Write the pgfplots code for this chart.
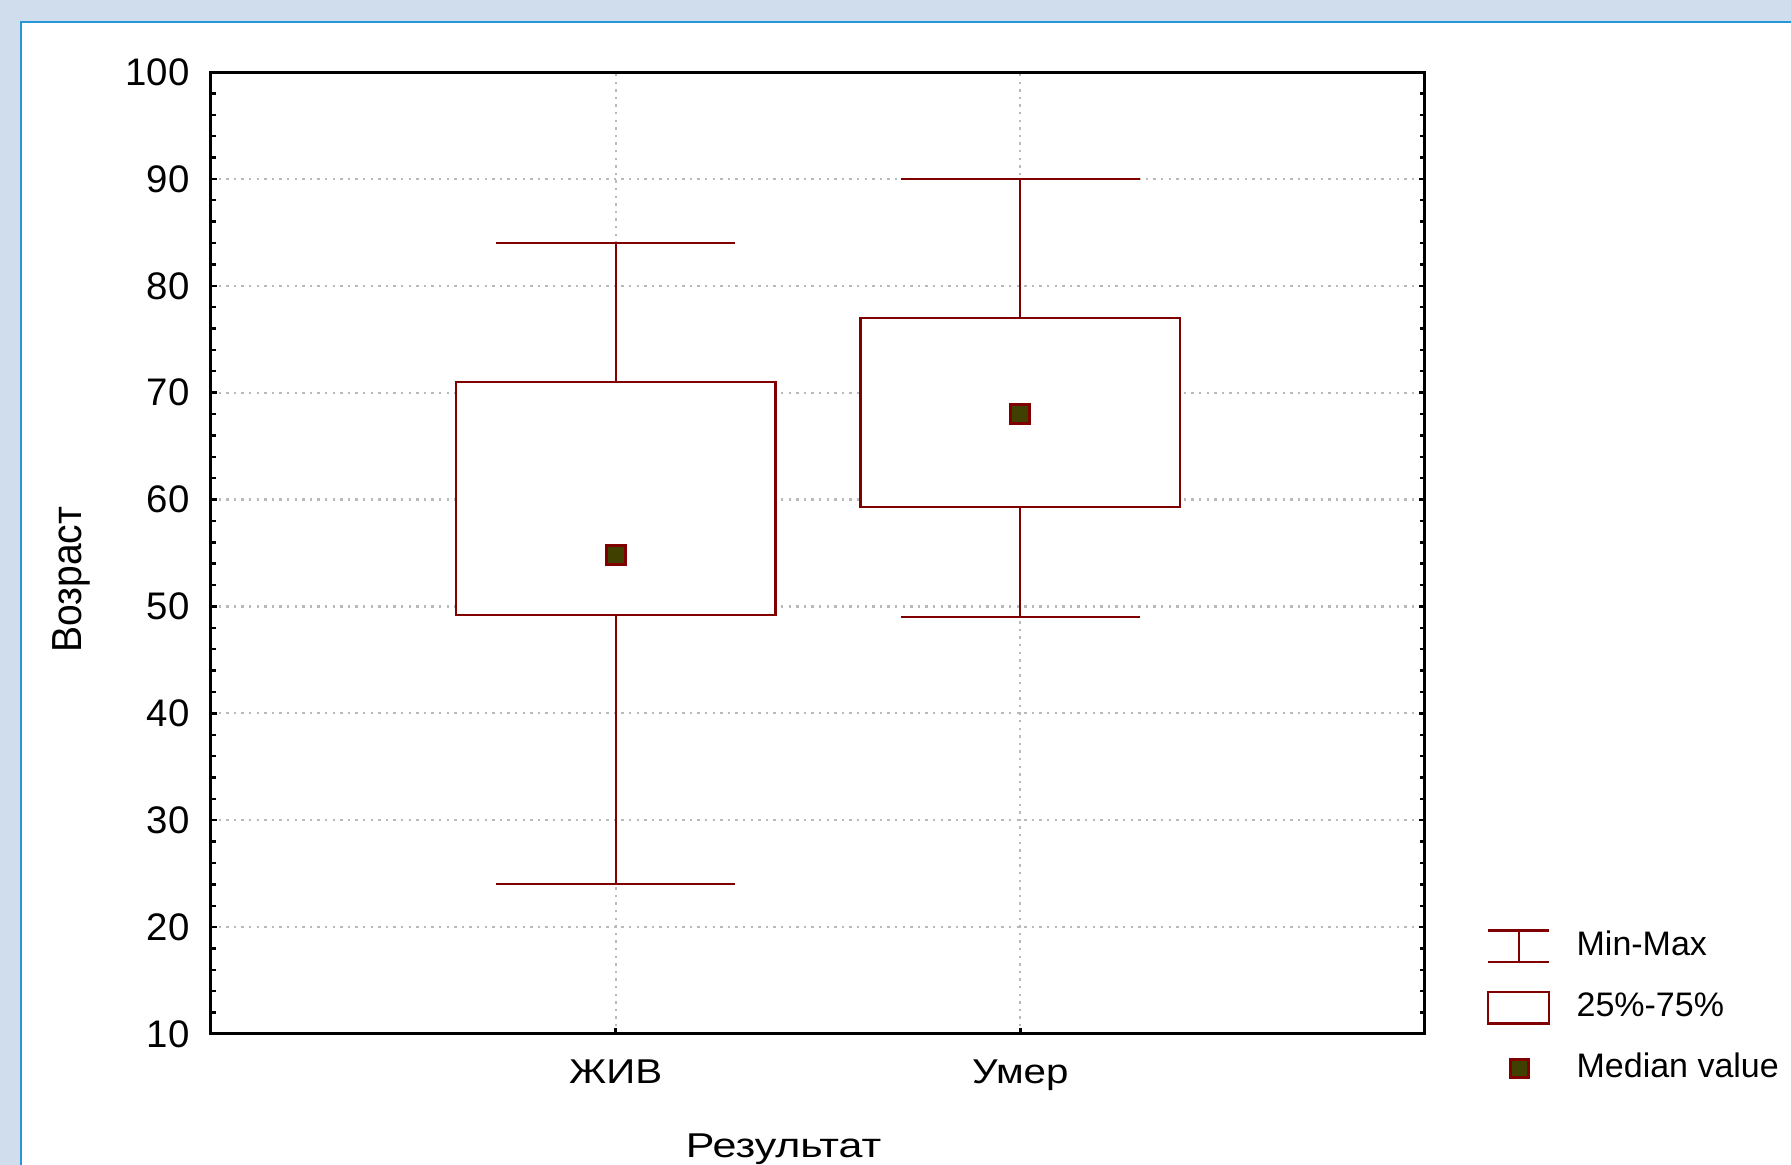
\documentclass[border=0pt]{standalone}
\usepackage{fontspec}
\setmainfont{Liberation Sans}
\usepackage{pgfplots}
\pgfplotsset{compat=1.18}
\definecolor{maroonc}{RGB}{128,0,0}
\definecolor{medfill}{RGB}{64,64,0}
\definecolor{bgblue}{RGB}{207,221,236}
\definecolor{panelblue}{RGB}{40,150,215}
\definecolor{gridgray}{RGB}{185,185,185}

\begin{document}
\begin{tikzpicture}
\useasboundingbox (0,0) rectangle (447.75pt,291.25pt);
\clip (0,0) rectangle (447.75pt,291.25pt);
\fill[bgblue] (0,0) rectangle (447.75pt,291.25pt);
\filldraw[fill=white, draw=panelblue, line width=0.5pt] (5.25pt,-5pt) rectangle (460pt,285.75pt);
\begin{axis}[
  at={(52.75pt,32.75pt)}, anchor=south west,
  scale only axis, width=303.5pt, height=240.5pt,
  xmin=0, xmax=3, ymin=10, ymax=100,
  xtick={1,2}, xticklabels={ЖИВ,Умер},
  ytick={10,20,...,100},
  minor y tick num=4,
  tick align=inside,
  xtick pos=left, ytick pos=both,
  major tick length=1.6pt, minor tick length=1.2pt,
  axis line style={black, line width=0.75pt},
  every tick/.style={black, line width=0.6pt},
  grid=major,
  major grid style={gridgray, line width=0.55pt, dash pattern=on 0.6pt off 1.3pt},
  /pgf/number format/assume math mode=true,
  yticklabel style={font=\fontsize{9.6}{11}\selectfont, xshift=-1.8pt},
  xticklabel style={font=\fontsize{8.6}{10}\selectfont, xscale=1.17, yshift=-3pt},
  ylabel={Возраст},
  ylabel style={font=\fontsize{10.5}{12}\selectfont, at={(axis description cs:-0.1065,0.4722)}, anchor=base, xscale=0.93},
  xlabel={Результат},
  xlabel style={font=\fontsize{8.6}{10}\selectfont, at={(axis description cs:0.4717,-0.1282)}, anchor=base, xscale=1.25},
  legend style={at={(axis description cs:1.0511,0.1087)}, anchor=north west,
    draw=none, fill=none, inner sep=0pt, outer sep=0pt,
    row sep=7.1pt, column sep=6.6pt,
    font=\fontsize{8.5}{10}\selectfont,
    cells={anchor=west}, nodes={inner sep=0pt}},
]
\addlegendimage{legend image code/.code={\draw[maroonc, line width=0.55pt] (0pt,-3.9pt) -- (15.25pt,-3.9pt) (0pt,3.9pt) -- (15.25pt,3.9pt) (7.625pt,-3.9pt) -- (7.625pt,3.9pt);}}
\addlegendentry{Min-Max}
\addlegendimage{legend image code/.code={\draw[maroonc, line width=0.55pt] (0pt,-3.9pt) rectangle (15.25pt,3.9pt);}}
\addlegendentry{25\%-75\%}
\addlegendimage{legend image code/.code={\path[draw=none, fill=none] (0pt,-3.9pt) rectangle (15.25pt,3.9pt); \draw[maroonc, fill=medfill, line width=0.7pt] (5.6pt,-2.25pt) rectangle (10.1pt,2.25pt);}}
\addlegendentry{Median value}

% ЖИВ: min 24, q1 49.2, median 54.8, q3 71, max 84
\addplot[maroonc, line width=0.55pt, forget plot] coordinates {(1,71) (1,84)};
\addplot[maroonc, line width=0.55pt, forget plot] coordinates {(1,24) (1,49.2)};
\addplot[maroonc, line width=0.55pt, forget plot] coordinates {(0.705,84) (1.295,84)};
\addplot[maroonc, line width=0.55pt, forget plot] coordinates {(0.705,24) (1.295,24)};
\addplot[maroonc, fill=white, line width=0.55pt, forget plot] coordinates {(0.605,49.2) (1.395,49.2) (1.395,71) (0.605,71)} -- cycle;
% Умер: min 49, q1 59.3, median 68, q3 77, max 90
\addplot[maroonc, line width=0.55pt, forget plot] coordinates {(2,77) (2,90)};
\addplot[maroonc, line width=0.55pt, forget plot] coordinates {(2,49) (2,59.3)};
\addplot[maroonc, line width=0.55pt, forget plot] coordinates {(1.705,90) (2.295,90)};
\addplot[maroonc, line width=0.55pt, forget plot] coordinates {(1.705,49) (2.295,49)};
\addplot[maroonc, fill=white, line width=0.55pt, forget plot] coordinates {(1.605,59.3) (2.395,59.3) (2.395,77) (1.605,77)} -- cycle;
% medians
\addplot[only marks, mark=square*, mark size=2.375pt, mark options={fill=medfill, draw=maroonc, line width=0.7pt}, forget plot] coordinates {(1,54.8) (2,68)};
\end{axis}
\end{tikzpicture}
\end{document}
